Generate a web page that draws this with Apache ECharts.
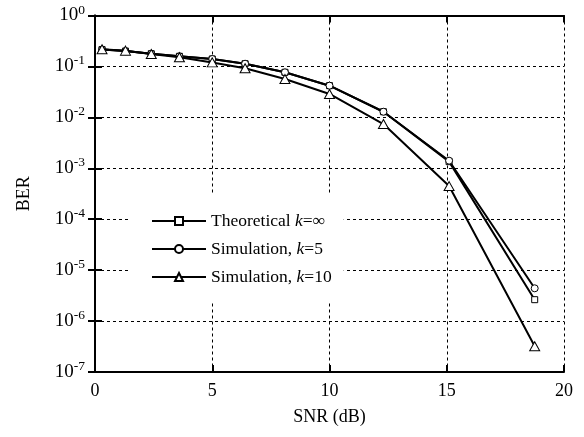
<!DOCTYPE html>
<html><head><meta charset="utf-8">
<script src="https://cdn.jsdelivr.net/npm/echarts@6/dist/echarts.min.js"></script>
<style>html,body{margin:0;padding:0;background:#fff}#c{width:584px;height:437px}</style>
</head><body><div id="c"></div>
<script>
const snr = [0.3, 1.3, 2.4, 3.6, 5.0, 6.4, 8.1, 10.0, 12.3, 15.1, 18.75];
const berTheory = [0.215, 0.2, 0.178, 0.158, 0.14, 0.113, 0.0766, 0.0419, 0.0129, 0.00135, 2.63e-6];
const berSimK5 = [0.215, 0.2, 0.178, 0.158, 0.14, 0.113, 0.0766, 0.0419, 0.0129, 0.00141, 4.4e-6];
const berSimK10 = [0.217, 0.204, 0.175, 0.152, 0.12, 0.092, 0.0566, 0.0288, 0.0074, 0.000447, 3.2e-7];
const seriesNames = ['Theoretical k=∞', 'Simulation, k=5', 'Simulation, k=10'];
const legendLabels = ['Theoretical {i|k}=∞', 'Simulation, {i|k}=5', 'Simulation, {i|k}=10'];
const xTicks = [0, 5, 10, 15, 20];

const FONT = 'Liberation Serif, Times New Roman, serif';
const pairs = ys => snr.map((x, i) => [x, ys[i]]);
const dash = {type: [3, 3], width: 1, color: '#000'};
const chart = echarts.init(document.getElementById('c'));
const lineCommon = {
  type: 'line',
  lineStyle: {color: '#000', width: 2},
  itemStyle: {color: '#fff', borderColor: '#000', borderWidth: 1},
  showAllSymbol: true,
  animation: false
};
chart.setOption({
  animation: false,
  backgroundColor: '#fff',
  grid: {left: 95, right: 20, top: 15.5, bottom: 65},
  legend: {
    orient: 'vertical', left: 128, top: 195,
    padding: [17, 12, 16, 23],
    backgroundColor: '#fff',
    itemWidth: 54, itemHeight: 10, itemGap: 10,
    data: seriesNames,
    formatter: n => legendLabels[seriesNames.indexOf(n)],
    textStyle: {fontFamily: FONT, fontSize: 17.5, color: '#000', lineHeight: 18,
      rich: {i: {fontFamily: FONT, fontSize: 17.5, fontStyle: 'italic', color: '#000', lineHeight: 18}}}
  },
  xAxis: [{
    type: 'value', min: 0, max: 20, interval: 5,
    name: 'SNR (dB)', nameLocation: 'middle', nameGap: 36,
    nameTextStyle: {fontFamily: FONT, fontSize: 18, color: '#000'},
    axisLine: {lineStyle: {color: '#000', width: 2}},
    axisTick: {inside: true, length: 7, lineStyle: {color: '#000', width: 2}},
    axisLabel: {fontFamily: FONT, fontSize: 18, color: '#000', margin: 10,
      customValues: xTicks},
    splitLine: {show: true, lineStyle: dash}
  }, {
    type: 'value', min: 0, max: 20, interval: 5, position: 'top',
    axisLine: {lineStyle: {color: '#000', width: 2}},
    axisTick: {inside: true, length: 7, lineStyle: {color: '#000', width: 2}},
    axisLabel: {show: false}, splitLine: {show: false}
  }],
  yAxis: [{
    type: 'log', logBase: 10, min: 1e-7, max: 1,
    name: 'BER', nameLocation: 'middle', nameGap: 62, nameRotate: 90,
    nameTextStyle: {fontFamily: FONT, fontSize: 18, color: '#000'},
    axisLine: {lineStyle: {color: '#000', width: 2}},
    axisTick: {inside: true, length: 7, lineStyle: {color: '#000', width: 2}},
    minorTick: {show: false},
    axisLabel: {fontFamily: FONT, fontSize: 19, color: '#000', margin: 10,
      formatter: v => '10{s|' + Math.round(Math.log10(v)) + '}',
      rich: {s: {fontFamily: FONT, fontSize: 13.5, color: '#000', padding: [0, 0, 11, 0]}}},
    splitLine: {show: true, lineStyle: dash}
  }, {
    type: 'log', logBase: 10, min: 1e-7, max: 1, position: 'right',
    axisLine: {lineStyle: {color: '#000', width: 2}},
    axisTick: {inside: true, length: 7, lineStyle: {color: '#000', width: 2}},
    axisLabel: {show: false}, splitLine: {show: false}, minorTick: {show: false}
  }],
  series: [
    Object.assign({}, lineCommon, {name: seriesNames[0], data: pairs(berTheory), symbol: 'rect', symbolSize: 6, z: 2}),
    Object.assign({}, lineCommon, {name: seriesNames[1], data: pairs(berSimK5), symbol: 'circle', symbolSize: 7, z: 3}),
    Object.assign({}, lineCommon, {name: seriesNames[2], data: pairs(berSimK10), symbol: 'triangle', symbolSize: [10, 9], z: 4})
  ]
});
</script></body></html>
